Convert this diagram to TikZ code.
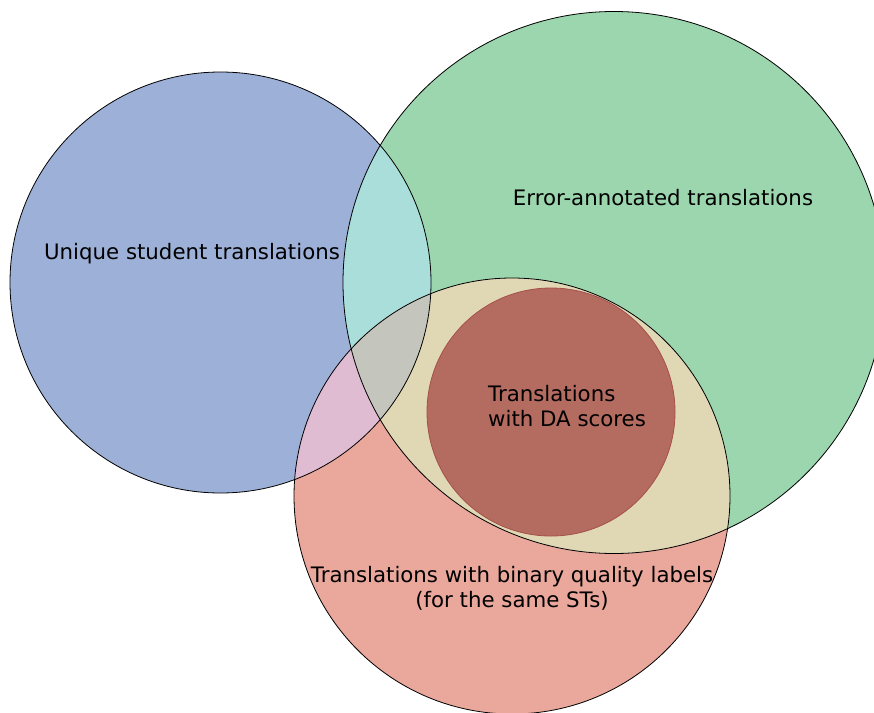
\documentclass[tikz,border=0pt]{standalone}
\usepackage{fontspec}
\setmainfont{DejaVu Sans}
\usepackage{tikz}
\usetikzlibrary{positioning}

\definecolor{stblue}{HTML}{9DB0D8}
\definecolor{errgreen}{HTML}{9CD6AE}
\definecolor{binred}{HTML}{EAA79C}
\definecolor{bgteal}{HTML}{A9DEDB}
\definecolor{brpink}{HTML}{E0BCD3}
\definecolor{grbeige}{HTML}{E0D7B5}
\definecolor{allgray}{HTML}{C4C6BE}
\definecolor{dafill}{HTML}{B46B60}
\definecolor{daedge}{HTML}{A5504A}

\tikzset{
	vennlabel/.style={font=\fontsize{21.3}{25}\selectfont, inner sep=0pt, align=center},
	outline/.style={draw=black, line width=0.8pt}
}

\begin{document}
\begin{tikzpicture}[x=1pt,y=-1pt]
	\useasboundingbox (0,0) rectangle (874,712);
	\begin{scope}
		\clip (0,0) rectangle (874,712);
		% the three sets
		\coordinate (st) at (220.5,282.5);
		\coordinate (err) at (614,282.5);
		\coordinate (bin) at (512,496);
		\fill[stblue] (st) circle (210.5);
		\fill[errgreen] (err) circle (271);
		\fill[binred] (bin) circle (218);
		% overlaps
		\begin{scope}
			\clip (st) circle (210.5);
			\fill[bgteal] (err) circle (271);
			\fill[brpink] (bin) circle (218);
		\end{scope}
		\begin{scope}
			\clip (err) circle (271);
			\fill[grbeige] (bin) circle (218);
			\clip (st) circle (210.5);
			\fill[allgray] (bin) circle (218);
		\end{scope}
		\draw[outline] (st) circle (210.5);
		\draw[outline] (err) circle (271);
		\draw[outline] (bin) circle (218);
		% DA subset
		\coordinate (da) at (551,412);
		\draw[fill=dafill, draw=daedge, line width=0.8pt] (da) circle (124);
	\end{scope}
	\node[vennlabel] (stlabel) at (192,254) {Unique student translations};
	\node[vennlabel] (errlabel) at (663,197.5) {Error-annotated translations};
	\node[vennlabel, align=left] (dalabel) at (567,406) {Translations\\with DA scores};
	\node[vennlabel] (binlabel) at (512,588) {Translations with binary quality labels\\(for the same STs)};
\end{tikzpicture}
\end{document}
